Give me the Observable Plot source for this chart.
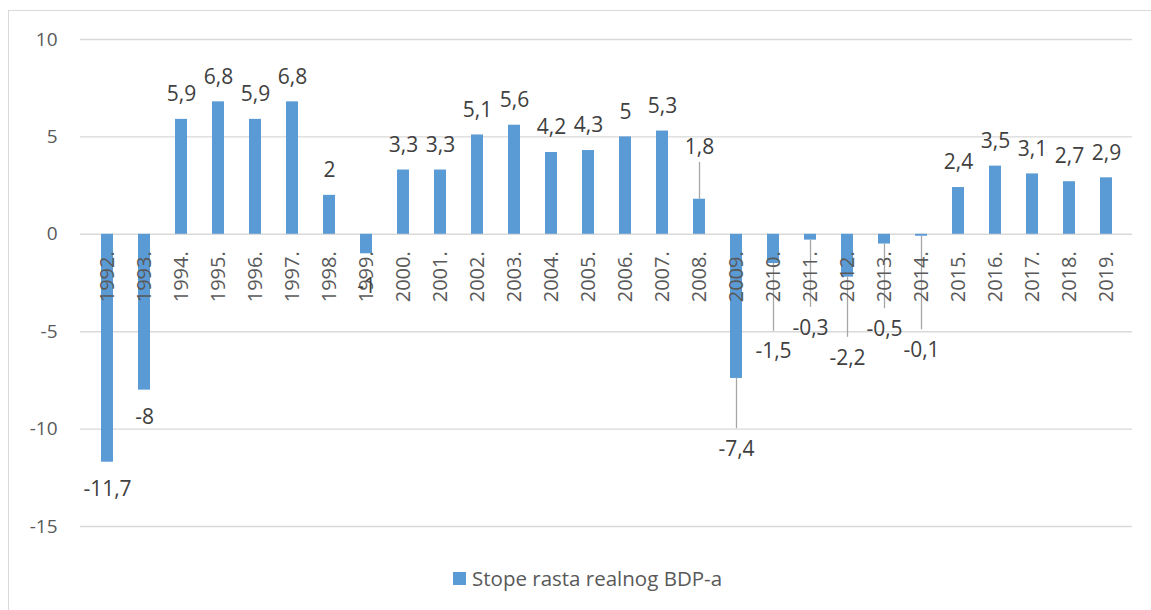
<!DOCTYPE html>
<html>
<head>
<meta charset="utf-8">
<script src="https://cdn.jsdelivr.net/npm/d3@7"></script>
<script src="https://cdn.jsdelivr.net/npm/@observablehq/plot@0.6"></script>
<style>
  html, body { margin: 0; padding: 0; background: #fff; overflow: hidden; }
  #wrap { position: relative; width: 1151px; height: 610px; font-family: "Open Sans", sans-serif; }
  #chart { position: absolute; left: 0; top: 0; }
  #frame { position: absolute; left: 8px; top: 10px; width: 3000px; height: 3000px;
           border-left: 1px solid #d9d9d9; border-top: 1px solid #d9d9d9; pointer-events: none; }
  #legend { position: absolute; left: 453px; top: 565px; height: 26px; display: flex; align-items: center;
            font-size: 20.5px; color: #595959; white-space: nowrap; }
  #legend .sw { width: 13px; height: 13px; background: #5B9BD5; margin-right: 6px; }
</style>
</head>
<body>
<div id="wrap">
  <div id="chart"></div>
  <div id="legend"><span class="sw"></span><span id="legtext"></span></div>
  <div id="frame"></div>
</div>
<script>
const years = ["1992.","1993.","1994.","1995.","1996.","1997.","1998.","1999.","2000.","2001.",
  "2002.","2003.","2004.","2005.","2006.","2007.","2008.","2009.","2010.","2011.",
  "2012.","2013.","2014.","2015.","2016.","2017.","2018.","2019."];
const values = [-11.7,-8,5.9,6.8,5.9,6.8,2,-1,3.3,3.3,5.1,5.6,4.2,4.3,5,5.3,1.8,-7.4,-1.5,-0.3,-2.2,-0.5,-0.1,2.4,3.5,3.1,2.7,2.9];
// where a data label was moved away from its bar (value units), null = default
const labelAt = [null,null,null,null,null,null,null,-2.66,null,null,
  null,null,null,null,null,null,4.49,-11.03,-6.03,-4.8,
  -6.34,-4.87,-5.95,null,null,null,null,null];
const hasLeader = [0,0,0,0,0,0,0,0,0,0,0,0,0,0,0,0,1,1,1,1,1,1,1,0,0,0,0,0];
const yTicks = [-15,-10,-5,0,5,10];
const seriesName = "Stope rasta realnog BDP-a";

const data = years.map((year, i) => ({year, value: values[i], pos: labelAt[i], leader: !!hasLeader[i]}));
const fmt = v => String(v).replace(".", ",");

const posDefault = data.filter(d => d.pos === null && d.value >= 0);
const negDefault = data.filter(d => d.pos === null && d.value < 0);
const moved = data.filter(d => d.pos !== null);
const leaders = data.filter(d => d.leader);

const chart = Plot.plot({
  width: 1151,
  height: 560,
  marginLeft: 80,
  marginRight: 19,
  marginTop: 39,
  marginBottom: 34,
  style: {fontFamily: "'Open Sans', sans-serif", background: "transparent", color: "#595959"},
  x: {type: "band", domain: years, paddingInner: 0.68, paddingOuter: 0.34, axis: null},
  y: {domain: [-15, 10], label: null},
  marks: [
    Plot.ruleY(yTicks, {stroke: "#d9d9d9", strokeWidth: 1.4}),
    Plot.axisY({ticks: yTicks, tickSize: 0, tickPadding: 23, tickFormat: d => String(d), fontSize: 19, fill: "#595959", label: null}),
    Plot.barY(data, {x: "year", y1: 0, y2: "value", fill: "#5B9BD5"}),
    Plot.ruleX(leaders, {x: "year", y1: "value", y2: d => d.pos + (d.value < 0 ? 1.05 : -0.8), stroke: "#a6a6a6", strokeWidth: 1.3}),
    Plot.text(data, {x: "year", y: () => 0, text: "year", rotate: -90, textAnchor: "end", dy: 17, fontSize: 20, fill: "#595959"}),
    Plot.text(posDefault, {x: "year", y: "value", text: d => fmt(d.value), dy: -25, fontSize: 21, fill: "#404040"}),
    Plot.text(negDefault, {x: "year", y: "value", text: d => fmt(d.value), dy: 27, fontSize: 21, fill: "#404040"}),
    Plot.text(moved, {x: "year", y: "pos", text: d => fmt(d.value), fontSize: 21, fill: "#404040"})
  ]
});
document.getElementById("chart").appendChild(chart);
document.getElementById("legtext").textContent = seriesName;
</script>
</body>
</html>
